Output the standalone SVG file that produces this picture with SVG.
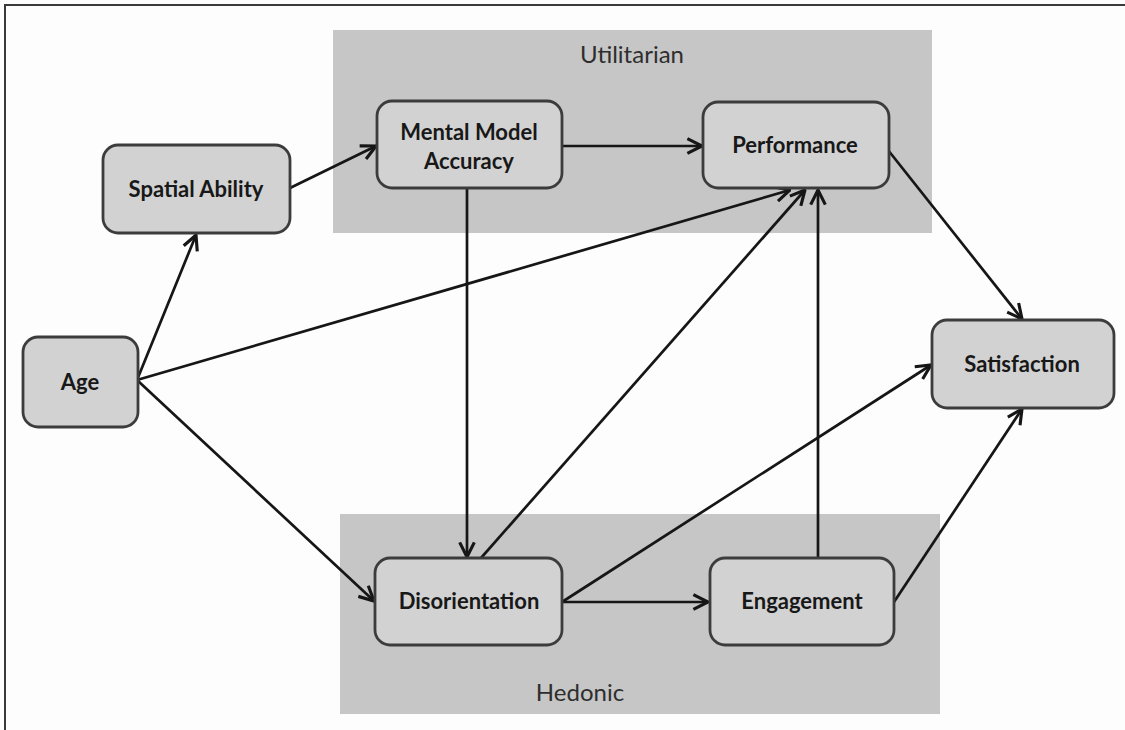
<svg xmlns="http://www.w3.org/2000/svg" width="1125" height="730" viewBox="0 0 1125 730">
  <style>
    .frame { stroke: #3a3a3a; stroke-width: 2; fill: none; }
    .group { fill: #c6c6c6; }
    .group-label { font-family: Lato, "Open Sans", "Liberation Sans", sans-serif; font-size: 24px; fill: #2e2e2e; text-anchor: middle; }
    .node rect { fill: #d2d2d2; stroke: #3c3c3c; stroke-width: 2.8; }
    .node text { font-family: Lato, "Open Sans", "Liberation Sans", sans-serif; font-weight: bold; font-size: 22px; fill: #181818; text-anchor: middle; }
    .edge { stroke: #161616; stroke-width: 2.7; fill: none; marker-end: url(#arrow); }
  </style>
  <defs>
    <marker id="arrow" markerUnits="userSpaceOnUse" markerWidth="18" markerHeight="18" viewBox="0 0 16 16" refX="15" refY="8" orient="auto">
      <path d="M2,1.5 L15,8 L2,14.5" fill="none" stroke="#161616" stroke-width="2.8" stroke-linejoin="miter"/>
    </marker>
  </defs>

  <rect x="0" y="0" width="1125" height="730" fill="#fdfdfd"/>
  <!-- outer frame: top and left rules -->
  <path class="frame" d="M5,730 L5,5 L1125,5"/>

  <!-- construct groups -->
  <g id="group-utilitarian">
    <rect class="group" x="333" y="30" width="599" height="203"/>
    <text class="group-label" x="632" y="63">Utilitarian</text>
  </g>
  <g id="group-hedonic">
    <rect class="group" x="340" y="514" width="600" height="200"/>
    <text class="group-label" x="580" y="701">Hedonic</text>
  </g>

  <!-- connectors -->
  <g id="connectors">
    <line class="edge" x1="290" y1="188" x2="376" y2="146"/>
    <line class="edge" x1="137" y1="380" x2="196" y2="235"/>
    <line class="edge" x1="137" y1="380" x2="790" y2="190"/>
    <line class="edge" x1="137" y1="380" x2="374" y2="601"/>
    <line class="edge" x1="562" y1="146" x2="702" y2="146"/>
    <line class="edge" x1="467" y1="188" x2="467" y2="557"/>
    <line class="edge" x1="481" y1="558" x2="805" y2="190"/>
    <line class="edge" x1="562" y1="602" x2="931" y2="365"/>
    <line class="edge" x1="562" y1="602" x2="708" y2="602"/>
    <line class="edge" x1="818" y1="558" x2="818" y2="190"/>
    <line class="edge" x1="894" y1="602" x2="1022" y2="409"/>
    <line class="edge" x1="888" y1="150" x2="1022" y2="319"/>
  </g>

  <!-- nodes -->
  <g id="node-spatial-ability" class="node">
    <rect x="103" y="145" width="187" height="88" rx="15"/>
    <text x="196" y="197">Spatial Ability</text>
  </g>
  <g id="node-mental-model-accuracy" class="node">
    <rect x="377" y="101" width="185" height="87" rx="15"/>
    <text x="469" y="140">Mental Model</text>
    <text x="469" y="169">Accuracy</text>
  </g>
  <g id="node-performance" class="node">
    <rect x="703" y="102" width="186" height="86" rx="15"/>
    <text x="795" y="153">Performance</text>
  </g>
  <g id="node-age" class="node">
    <rect x="23" y="337" width="115" height="90" rx="15"/>
    <text x="80" y="390">Age</text>
  </g>
  <g id="node-satisfaction" class="node">
    <rect x="932" y="320" width="182" height="88" rx="15"/>
    <text x="1022" y="372">Satisfaction</text>
  </g>
  <g id="node-disorientation" class="node">
    <rect x="375" y="558" width="187" height="87" rx="15"/>
    <text x="469" y="609">Disorientation</text>
  </g>
  <g id="node-engagement" class="node">
    <rect x="710" y="558" width="184" height="87" rx="15"/>
    <text x="802" y="609">Engagement</text>
  </g>
</svg>
